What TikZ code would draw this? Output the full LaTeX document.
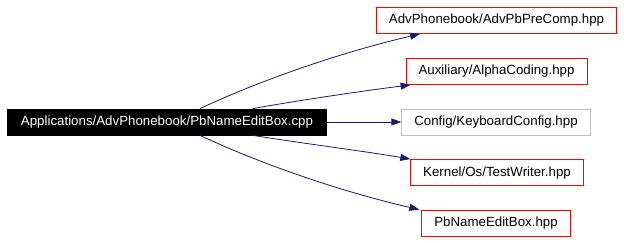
\documentclass[tikz,border=0pt]{standalone}
\usepackage{fontspec}
\setmainfont{Liberation Sans}
\usetikzlibrary{arrows.meta}

\definecolor{edgeblue}{RGB}{25,25,112}
\definecolor{extgray}{RGB}{191,191,191}

\begin{document}
\begin{tikzpicture}[x=1pt,y=-1pt,
  file/.style={draw=red,fill=white,line width=0.8pt,inner xsep=12.5pt,inner ysep=0pt,
    minimum height=26pt,text height=10pt,text depth=3pt,font=\fontsize{13.3}{14}\selectfont},
  dep/.style={draw=edgeblue,line width=0.8pt,-{Triangle[length=10pt,width=7pt]}}]
\useasboundingbox (0,0) rectangle (624,243);
% the source file and the headers it includes
\node[file,draw=black,fill=black,text=white,inner xsep=13.5pt] (cpp) at (167,122) {Applications/AdvPhonebook/PbNameEditBox.cpp};
\node[file] (precomp) at (496.5,20.5) {AdvPhonebook/AdvPbPreComp.hpp};
\node[file] (alpha) at (496.5,71.5) {Auxiliary/AlphaCoding.hpp};
\node[file,draw=extgray] (keyb) at (496,122) {Config/KeyboardConfig.hpp};
\node[file] (writer) at (497,172.5) {Kernel/Os/TestWriter.hpp};
\node[file] (hpp) at (496,223) {PbNameEditBox.hpp};
% include edges
\draw[dep] ([xshift=33pt]cpp.north) .. controls (250,85) and (330,55) .. ([xshift=-76.5pt]precomp.south);
\draw[dep] ([xshift=86pt]cpp.north) .. controls (300,100) and (370,90) .. ([xshift=5pt]alpha.south west);
\draw[dep] (cpp.east) -- (keyb.west);
\draw[dep] ([xshift=86pt]cpp.south) .. controls (300,143) and (370,152) .. (writer.north west);
\draw[dep] ([xshift=33pt]cpp.south) .. controls (250,159) and (330,189) .. ([xshift=-2pt]hpp.north west);
\end{tikzpicture}
\end{document}
